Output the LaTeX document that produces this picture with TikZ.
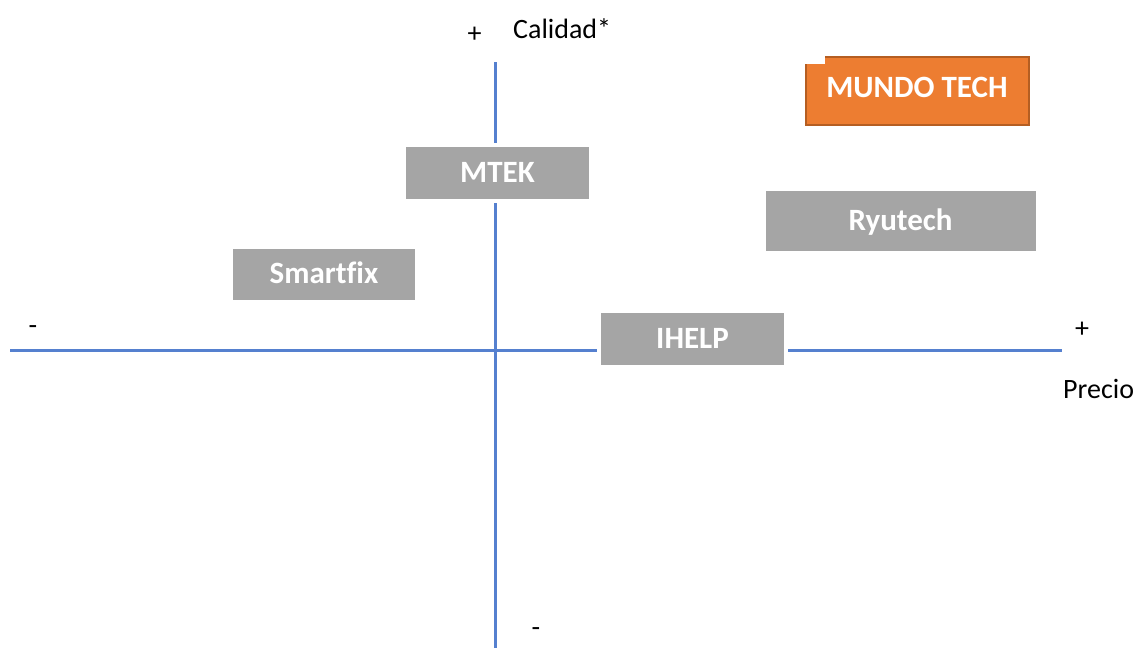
\documentclass[tikz,border=0pt]{standalone}
\usepackage{fontspec}
\setmainfont{Carlito}[Ligatures=NoCommon]
\definecolor{axisblue}{HTML}{5580CF}
\definecolor{boxgray}{HTML}{A5A5A5}
\definecolor{orangefill}{HTML}{ED7D31}
\definecolor{orangeedge}{HTML}{B55E22}
\begin{document}
\begin{tikzpicture}[x=1pt,y=-1pt,
  axis/.style={draw=axisblue,line width=3pt},
  brand/.style={preaction={draw=white,line width=8pt},fill=boxgray,inner sep=0pt,
    text=white,text height=19.5pt,text depth=0pt,font=\fontsize{31}{37}\selectfont\bfseries},
  lbl/.style={inner sep=0pt,font=\fontsize{28}{34}\selectfont}]
\path[use as bounding box] (0,0) rectangle (1137,648);
% axes
\coordinate (xl) at (10,350);
\coordinate (xr) at (1062,350);
\coordinate (yt) at (495,62);
\coordinate (yb) at (495,648);
\draw[axis] (xl) -- (xr);
\draw[axis] (yt) -- (yb);
% gray boxes
\node[brand,minimum width=183pt,minimum height=52pt] (mtek) at (497.5,173) {MTEK};
\node[brand,minimum width=182pt,minimum height=51pt] (smartfix) at (324,274) {Smartfix};
\node[brand,minimum width=270pt,minimum height=60pt] (ryutech) at (900.5,221) {Ryutech};
\node[brand,minimum width=183pt,minimum height=52pt] (ihelp) at (692.5,339) {IHELP};
% MUNDO TECH
\fill[orangefill] (806,64) -- (825,64) -- (825,57) -- (1029,57) -- (1029,125) -- (806,125) -- cycle;
\draw[orangeedge,line width=2pt] (806,64) -- (806,125) -- (1029,125) -- (1029,57) -- (825,57);
\node[inner sep=0pt,text=white,text height=19.5pt,text depth=0pt,font=\fontsize{31}{37}\selectfont\bfseries] (mundo) at (917,88) {MUNDO TECH};
% axis labels
\node[lbl] (yplus) at (474.5,35) {+};
\node[lbl,anchor=base west] (calidad) at (513,38) {Calidad*};
\node[lbl] (xminus) at (33,330) {-};
\node[lbl] (xplus) at (1082,330) {+};
\node[lbl,anchor=base west] (precio) at (1063,398) {Precio};
\node[lbl] (yminus) at (536,632) {-};
\end{tikzpicture}
\end{document}
